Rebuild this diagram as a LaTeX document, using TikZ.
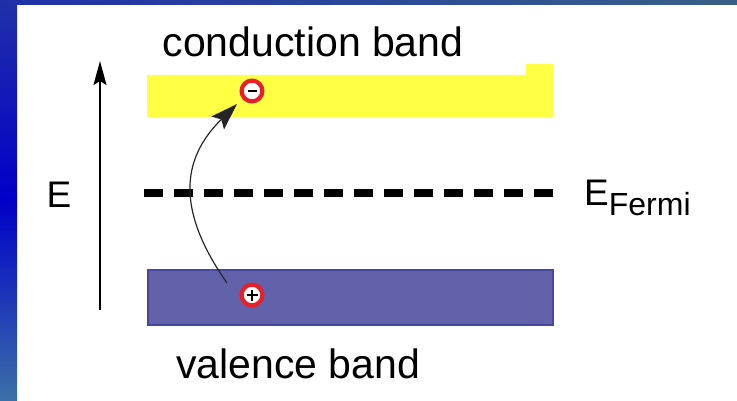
\documentclass[tikz,border=0pt]{standalone}
\usepackage{fontspec}
\setmainfont{Liberation Sans}
\usetikzlibrary{arrows.meta}
\definecolor{bandyellow}{HTML}{FFFF44}
\definecolor{bandviolet}{HTML}{6262AA}
\definecolor{bandvioletedge}{HTML}{4646A0}
\definecolor{frameA}{HTML}{2030A8}
\definecolor{frameB}{HTML}{0000C8}
\definecolor{frameC}{HTML}{3C70A8}
\definecolor{frameD}{HTML}{3A6088}
\definecolor{ringred}{HTML}{E8202A}
\tikzset{
  carrier/.style={circle, draw=ringred, line width=4.2pt, fill=white, minimum size=20.8pt, inner sep=0pt},
  lbl/.style={font=\fontsize{41}{41}\selectfont, anchor=base, inner sep=0pt},
  elbl/.style={font=\fontsize{37}{37}\selectfont, inner sep=0pt},
}
\begin{document}
\begin{tikzpicture}[x=1pt,y=1pt]
\useasboundingbox (0,0) rectangle (737,400);
\fill[white] (0,0) rectangle (737,400);
% frame
\shade[top color=frameA, bottom color=frameC, middle color=frameB] (0,0) rectangle (17,400);
\shade[left color=frameA, right color=frameD] (0,395) rectangle (737,400);
% bands
\fill[bandyellow] (147,283) -- (553,283) -- (553,336) -- (526,336) -- (526,325) -- (147,325) -- cycle;
\draw[fill=bandviolet, draw=bandvioletedge, line width=1.5pt] (148,75) rectangle (553,130);
% fermi level
\coordinate (fl) at (144,207);
\coordinate (fr) at (555,207);
\draw[line width=8pt, dash pattern=on 19pt off 11pt] (fl) -- (fr);
% energy axis
\coordinate (ebot) at (100,90);
\coordinate (etop) at (100,339);
\draw[line width=1.6pt, -{Stealth[length=24pt,width=13pt,inset=4pt]}] (ebot) -- (etop);
\node[elbl] (elabel) at (59,205) {E};
% labels
\node[lbl] (cb) at (313,343) {conduction band};
\node[lbl] (vb) at (298,22) {valence band};
\node[elbl, anchor=base west] (ef) at (584,195) {E\raisebox{-10pt}{\fontsize{32}{32}\selectfont Fermi}};
% carriers
\node[carrier] (minus) at (252,309) {};
\draw[line width=2.2pt] ([xshift=-4.5pt]minus.center) -- ([xshift=4.5pt]minus.center);
\node[carrier] (plus) at (252,105) {};
\draw[line width=2.2pt] ([xshift=-5.5pt]plus.center) -- ([xshift=5.5pt]plus.center);
\draw[line width=2.2pt] ([yshift=-5.5pt]plus.center) -- ([yshift=5.5pt]plus.center);
% excitation arrow
\coordinate (exstart) at ([shift={(-25,12)}]plus.center);
\coordinate (exend) at ([shift={(-15,-13)}]minus.center);
\draw[line width=1.2pt, black!85, -{Stealth[length=27pt,width=18pt,inset=5pt]}] (exstart) .. controls (178,187) and (179,239) .. (exend);
\end{tikzpicture}
\end{document}
